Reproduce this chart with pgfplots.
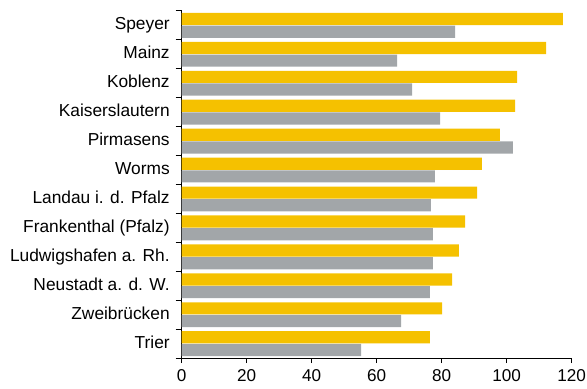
\documentclass[border=0pt]{standalone}
\usepackage{fontspec}
\setmainfont{Liberation Sans}
\usepackage{pgfplots}
\pgfplotsset{compat=1.18}
\definecolor{byellow}{RGB}{245,193,0}
\definecolor{bgray}{RGB}{162,166,169}
\begin{document}
\begin{tikzpicture}
\path[use as bounding box] (-181.7bp,-31bp) rectangle (405.3bp,358bp);
\begin{axis}[
  at={(0,0)}, anchor=south west,
  scale only axis, width=390bp, height=347.3bp,
  xmin=0, xmax=120, ymin=-0.5, ymax=11.5,
  axis lines*=left,
  axis line style={black, line width=0.9bp},
  xtick={0,20,...,120},
  ytick={0,...,11},
  yticklabels={Trier,Zweibrücken,Neustadt a. d. W.,Ludwigshafen a. Rh.,Frankenthal (Pfalz),Landau i. d. Pfalz,Worms,Pirmasens,Kaiserslautern,Koblenz,Mainz,Speyer},
  minor ytick={-0.5,0.5,...,11.5},
  tick align=outside,
  major x tick style={black, line width=0.9bp},
  major tick length=5bp,
  major y tick style={draw=none},
  minor tick length=6bp,
  minor y tick style={black, line width=0.9bp},
  yticklabel style={font=\fontsize{17.4}{20}\selectfont, anchor=base east, xshift=-3.5bp, yshift=-4.5bp},
  xticklabel style={font=\fontsize{17.2}{20}\selectfont, yshift=-3bp},
  /pgf/number format/assume math mode=true,
  xbar, bar width=12.2bp,
]
\addplot[fill=byellow, draw=none, bar shift=6.2bp] coordinates {
(117.3,11) (112.1,10) (103.2,9) (102.6,8) (97.9,7) (92.4,6)
(90.9,5) (87.2,4) (85.3,3) (83.2,2) (80.1,1) (76.4,0)};
\addplot[fill=bgray, draw=none, bar shift=-6.5bp] coordinates {
(84.1,11) (66.3,10) (70.9,9) (79.5,8) (101.9,7) (77.9,6)
(76.7,5) (77.3,4) (77.3,3) (76.4,2) (67.5,1) (55.2,0)};
\end{axis}
\end{tikzpicture}
\end{document}
